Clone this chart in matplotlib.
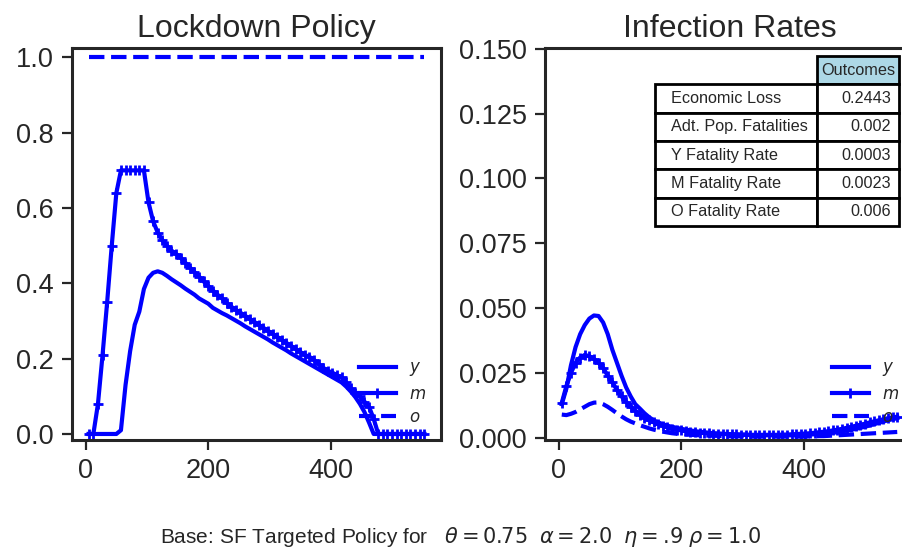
import numpy as np
import matplotlib
matplotlib.use("Agg")
import matplotlib.pyplot as plt
from matplotlib.table import Table

plt.rcParams['font.family'] = ['Liberation Sans', 'DejaVu Sans']
TXT = '#262626'

# time grid (days)
days = np.arange(5, 555, 7.5)

# Lockdown policy by age group
lock_y = [0, 0, 0, 0, 0, 0, 0, 0.01, 0.13, 0.22, 0.29, 0.325, 0.385, 0.415, 0.428, 0.432,
          0.428, 0.42, 0.411, 0.403, 0.395, 0.386, 0.378, 0.370, 0.36, 0.353, 0.346, 0.335,
          0.328, 0.321, 0.315, 0.308, 0.301, 0.294, 0.286, 0.279, 0.272, 0.265, 0.258, 0.251,
          0.243, 0.236, 0.229, 0.222, 0.214, 0.207, 0.200, 0.193, 0.186, 0.179, 0.172, 0.165,
          0.158, 0.151, 0.144, 0.137, 0.126, 0.113, 0.098, 0.08, 0.058, 0.03, 0.0, 0, 0, 0,
          0, 0, 0, 0, 0, 0, 0, 0]
lock_m = [0, 0, 0.08, 0.21, 0.35, 0.50, 0.64, 0.70, 0.70, 0.70, 0.70, 0.70, 0.70, 0.615,
          0.565, 0.535, 0.515, 0.50, 0.487, 0.478, 0.468, 0.455, 0.442, 0.43, 0.418, 0.405,
          0.393, 0.381, 0.37, 0.36, 0.348, 0.338, 0.33, 0.322, 0.314, 0.306, 0.298, 0.29,
          0.282, 0.274, 0.266, 0.258, 0.25, 0.242, 0.234, 0.226, 0.218, 0.21, 0.205, 0.197,
          0.186, 0.176, 0.168, 0.163, 0.156, 0.15, 0.137, 0.122, 0.11, 0.10, 0.086, 0.072,
          0.04, 0.0, 0, 0, 0, 0, 0, 0, 0, 0, 0, 0]
lock_o = [1.0] * 74

# Infection rates by age group
inf_y = [0.013, 0.019, 0.028, 0.035, 0.040, 0.0435, 0.046, 0.0472, 0.047, 0.0445, 0.040,
         0.034, 0.029, 0.024, 0.0195, 0.016, 0.013, 0.0113, 0.0095, 0.008, 0.0068, 0.006,
         0.0053, 0.0047, 0.0043, 0.0039, 0.0035, 0.0032, 0.0029, 0.0026, 0.0024, 0.0022,
         0.002, 0.0018, 0.0017, 0.0016, 0.0015, 0.0014, 0.0013, 0.0012, 0.0012, 0.0011,
         0.0011, 0.001, 0.001, 0.001, 0.001, 0.001, 0.001, 0.001, 0.001, 0.0011, 0.0011,
         0.0012, 0.0013, 0.0014, 0.0015, 0.0016, 0.0018, 0.002, 0.0022, 0.0025, 0.0028,
         0.0031, 0.0035, 0.0039, 0.0043, 0.0048, 0.0053, 0.0058, 0.0063, 0.0068, 0.0072,
         0.0076]
inf_m = [0.0135, 0.02, 0.025, 0.029, 0.031, 0.032, 0.0315, 0.0305, 0.029, 0.027, 0.024,
         0.0215, 0.0185, 0.016, 0.014, 0.012, 0.0105, 0.009, 0.0078, 0.0068, 0.006, 0.0053,
         0.0047, 0.0041, 0.0036, 0.0032, 0.0029, 0.0026, 0.0024, 0.0022, 0.002, 0.0019,
         0.0018, 0.0017, 0.0016, 0.0015, 0.0015, 0.0014, 0.0014, 0.0013, 0.0013, 0.0012,
         0.0012, 0.0012, 0.0012, 0.0012, 0.0012, 0.0012, 0.0013, 0.0013, 0.0014, 0.0015,
         0.0016, 0.0017, 0.0018, 0.002, 0.0022, 0.0024, 0.0026, 0.0029, 0.0032, 0.0035,
         0.0039, 0.0043, 0.0047, 0.0051, 0.0055, 0.006, 0.0064, 0.0068, 0.0072, 0.0076,
         0.0079, 0.0082]
inf_o = [0.009, 0.0088, 0.0093, 0.010, 0.011, 0.012, 0.013, 0.0136, 0.0137, 0.013, 0.012,
         0.0108, 0.0095, 0.0083, 0.0072, 0.0063, 0.0056, 0.0049, 0.0043, 0.0037, 0.0032,
         0.0028, 0.0024, 0.0021, 0.0018, 0.0016, 0.0014, 0.0013, 0.0012, 0.0011, 0.001,
         0.0009, 0.0009, 0.0008, 0.0008, 0.0007, 0.0007, 0.0006, 0.0006, 0.0006, 0.0006,
         0.0005, 0.0005, 0.0005, 0.0005, 0.0005, 0.0005, 0.0005, 0.0005, 0.0005, 0.0005,
         0.0005, 0.0005, 0.0005, 0.0006, 0.0006, 0.0007, 0.0007, 0.0008, 0.0009, 0.001,
         0.0011, 0.0012, 0.0013, 0.0014, 0.0015, 0.0016, 0.0017, 0.0018, 0.0019, 0.002,
         0.0021, 0.0022, 0.0023]

table_rows = ["Economic Loss", "Adt. Pop. Fatalities", "Y Fatality Rate",
              "M Fatality Rate", "O Fatality Rate"]
table_vals = ["0.2443", "0.002", "0.0003", "0.0023", "0.006"]
table_header = "Outcomes"

footnote = (r"Base: SF Targeted Policy for   $\theta = 0.75$  $\alpha = 2.0$  "
            r"$\eta = .\!9$ $\rho = 1.0$")

fig = plt.figure(figsize=(9.02, 5.5), dpi=100)
W, H = 902, 550
ax1 = fig.add_axes([72 / W, 110 / H, 369 / W, 392 / H])
ax2 = fig.add_axes([545 / W, 110 / H, 369 / W, 392 / H])

lw = 3
for ax, (a, b, c) in ((ax1, (lock_y, lock_m, lock_o)), (ax2, (inf_y, inf_m, inf_o))):
    ax.plot(days, a, color='blue', lw=lw, label='$y$')
    ax.plot(days, b, color='blue', lw=lw, marker='+', ms=7, mew=2, label='$m$')
    ax.plot(days, c, color='blue', lw=lw, ls='--', label='$o$')
    ax.margins(x=0.05)
    for s in ax.spines.values():
        s.set_linewidth(2.2)
        s.set_color(TXT)
    ax.tick_params(axis='both', direction='out', length=7, width=1.6, color=TXT,
                   labelsize=19.5, labelcolor=TXT, pad=6)
    ax.set_xticks([0, 200, 400])
    leg = ax.legend(loc='lower right', frameon=False, fontsize=12, handlelength=2.2,
                    labelspacing=0.5)
    for t in leg.get_texts():
        t.set_color(TXT)

ax1.set_ylim(-0.016, 1.025)
ax1.set_yticks([0.0, 0.2, 0.4, 0.6, 0.8, 1.0])
ax2.set_ylim(-0.0008, 0.1503)
ax2.set_yticks([0.0, 0.025, 0.05, 0.075, 0.1, 0.125, 0.15])
ax2.set_yticklabels(['0.000', '0.025', '0.050', '0.075', '0.100', '0.125', '0.150'])

ax1.set_title("Lockdown Policy", fontsize=23, color=TXT, pad=8)
ax2.set_title("Infection Rates", fontsize=23, color=TXT, pad=8)

# outcomes table
x0 = (655 - 545) / 369
x1 = (899 - 545) / 369
ytop = (440 - 56) / 392
ybot = (440 - 226) / 392
tab = Table(ax2, bbox=[x0, ybot, x1 - x0, ytop - ybot])
w0, w1, h = 162, 82, 1.0
hc = tab.add_cell(0, 1, w1, h, text=table_header, loc='center', facecolor='#add8e6',
                  edgecolor='black')
hc.set_linewidth(2)
for i, (lab, val) in enumerate(zip(table_rows, table_vals), start=1):
    c0 = tab.add_cell(i, 0, w0, h, text=lab, loc='left', facecolor='white', edgecolor='black')
    c1 = tab.add_cell(i, 1, w1, h, text=val, loc='right', facecolor='white', edgecolor='black')
    c0.set_linewidth(2)
    c1.set_linewidth(2)
tab.auto_set_font_size(False)
tab.set_fontsize(11.7)
for cell in tab.get_celld().values():
    cell.get_text().set_color(TXT)
ax2.add_table(tab)

fig.text(461 / W, 1 - 537 / H, footnote, ha='center', va='center', fontsize=15, color=TXT)

fig.savefig("out.png", dpi=100)
